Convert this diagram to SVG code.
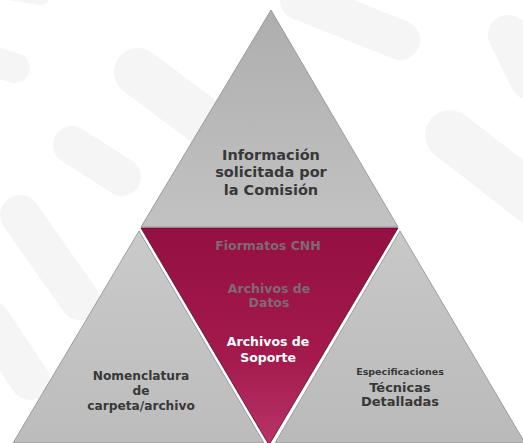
<svg xmlns="http://www.w3.org/2000/svg" width="523" height="443" viewBox="0 0 523 443">
  <defs>
    <linearGradient id="gTop" x1="0" y1="0" x2="0" y2="1">
      <stop offset="0" stop-color="#aeaeae"/>
      <stop offset="1" stop-color="#c2c2c2"/>
    </linearGradient>
    <linearGradient id="gLeft" x1="0" y1="0" x2="0" y2="1">
      <stop offset="0" stop-color="#cacaca"/>
      <stop offset="1" stop-color="#bcbcbc"/>
    </linearGradient>
    <linearGradient id="gRight" x1="0" y1="0" x2="0" y2="1">
      <stop offset="0" stop-color="#c8c8c8"/>
      <stop offset="1" stop-color="#bababa"/>
    </linearGradient>
    <linearGradient id="gMid" x1="0" y1="0" x2="0" y2="1">
      <stop offset="0" stop-color="#940f43"/>
      <stop offset="0.6" stop-color="#a41a4d"/>
      <stop offset="1" stop-color="#b8346a"/>
    </linearGradient>
  </defs>
  <style>
    .wm { stroke: #f5f5f5; stroke-linecap: round; fill: none; }
    .tri { stroke: #8e8e8e; stroke-width: 0.8; }
    text { font-family: "DejaVu Sans", "Liberation Sans", sans-serif; font-weight: bold; text-anchor: middle; }
    .dark { fill: #383838; }
    .mute { fill: #7f6a72; }
    .white { fill: #ffffff; }
  </style>
  <rect width="523" height="443" fill="#ffffff"/>
  <g id="watermark">
    <line class="wm" x1="138" y1="72" x2="205" y2="122" stroke-width="48"/>
    <line class="wm" x1="72" y1="145" x2="122" y2="177" stroke-width="38"/>
    <line class="wm" x1="-5" y1="62" x2="15" y2="68" stroke-width="30"/>
    <line class="wm" x1="10" y1="-10" x2="40" y2="-5" stroke-width="20"/>
    <line class="wm" x1="450" y1="135" x2="540" y2="205" stroke-width="50"/>
    <line class="wm" x1="508" y1="35" x2="530" y2="80" stroke-width="40"/>
    <line class="wm" x1="20" y1="215" x2="80" y2="300" stroke-width="40"/>
    <line class="wm" x1="-10" y1="320" x2="30" y2="380" stroke-width="40"/>
    <line class="wm" x1="300" y1="0" x2="400" y2="40" stroke-width="40"/>
  </g>
  <g id="connectors"></g>
  <g id="node-top">
    <polygon class="tri" fill="url(#gTop)" points="271,10 141,227 398,227"/>
    <text class="dark" font-size="14.5" x="271" y="160">Información</text>
    <text class="dark" font-size="14.5" x="271" y="177">solicitada por</text>
    <text class="dark" font-size="14.5" x="271" y="195">la Comisión</text>
  </g>
  <g id="node-left">
    <polygon class="tri" fill="url(#gLeft)" points="139,231 13,443 264,443"/>
    <text class="dark" font-size="12.2" x="141" y="380">Nomenclatura</text>
    <text class="dark" font-size="12.2" x="141" y="395">de</text>
    <text class="dark" font-size="12.2" x="141" y="410">carpeta/archivo</text>
  </g>
  <g id="node-right">
    <polygon class="tri" fill="url(#gRight)" points="400,231 275,443 525,443"/>
    <text class="dark" font-size="9.5" x="400" y="375">Especificaciones</text>
    <text class="dark" font-size="13" x="400" y="392">Técnicas</text>
    <text class="dark" font-size="13" x="400" y="406">Detalladas</text>
  </g>
  <g id="node-center">
    <polygon fill="url(#gMid)" stroke="#5e0a28" stroke-width="0.8" points="141,228 398,228 269,445"/>
    <text class="mute" font-size="12.5" x="268" y="250">Fiormatos CNH</text>
    <text class="mute" font-size="12.5" x="269" y="293">Archivos de</text>
    <text class="mute" font-size="12.5" x="269" y="307">Datos</text>
    <text class="white" font-size="12.5" x="268" y="346">Archivos de</text>
    <text class="white" font-size="12.5" x="268" y="362">Soporte</text>
  </g>
</svg>
